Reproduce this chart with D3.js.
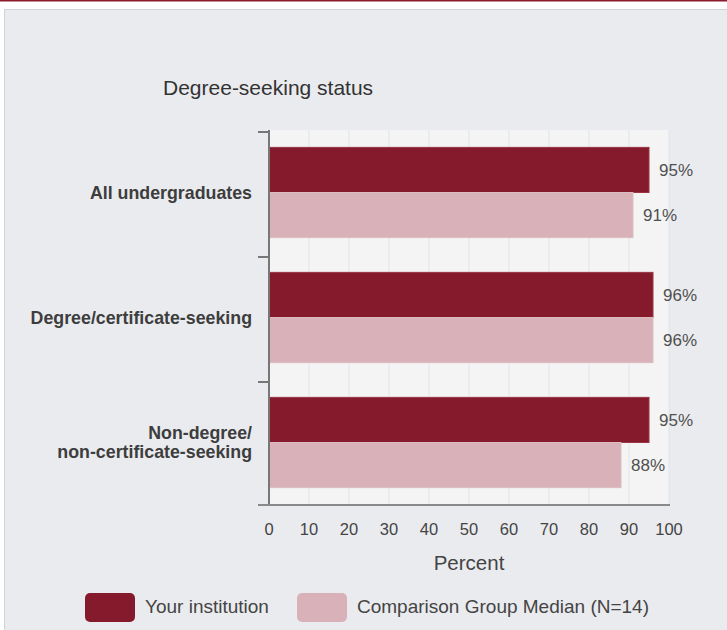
<!DOCTYPE html>
<html>
<head>
<meta charset="utf-8">
<script src="https://cdn.jsdelivr.net/npm/d3@7/dist/d3.min.js"></script>
<style>
  html, body { margin: 0; padding: 0; background: #ffffff; }
  svg { display: block; font-family: "Liberation Sans", Arial, sans-serif; }
</style>
</head>
<body>
<svg id="chart" width="727" height="630"></svg>
<script>
const title = "Degree-seeking status";
const categories = ["All undergraduates", "Degree/certificate-seeking", "Non-degree/\nnon-certificate-seeking"];
const seriesNames = ["Your institution", "Comparison Group Median (N=14)"];
const yourInstitution = [95, 96, 95];
const comparisonMedian = [91, 96, 88];
const xTicks = [0, 10, 20, 30, 40, 50, 60, 70, 80, 90, 100];
const xLabel = "Percent";
const colors = ["#841a2c", "#d8b2b8"];

const svg = d3.select("#chart");

// top rule and panel
svg.append("rect").attr("x", 0).attr("y", 0).attr("width", 727).attr("height", 1.5).attr("fill", "#8a1c2e");
svg.append("rect").attr("x", 4.5).attr("y", 9.5).attr("width", 740).attr("height", 640)
  .attr("fill", "#eaebef").attr("stroke", "#d2d3d6").attr("stroke-width", 1);

const pL = 269, pR = 669, pT = 130, pB = 505;
const x = d3.scaleLinear().domain([0, 100]).range([pL, pR]);
const y = d3.scaleBand().domain(categories).range([pT, pB]).padding(0);
const inner = d3.scaleBand().domain([0, 1]).range([0, y.bandwidth()]).paddingInner(0).paddingOuter(0.385);

// plot background
svg.append("rect").attr("x", pL).attr("y", pT).attr("width", pR - pL).attr("height", pB - pT).attr("fill", "#f4f4f4");

// grid
svg.append("g").selectAll("line").data(xTicks).join("line")
  .attr("x1", d => x(d)).attr("x2", d => x(d))
  .attr("y1", pT).attr("y2", pB)
  .attr("stroke", "#dfe4ec").attr("stroke-width", 1);

// title
svg.append("text").attr("x", 163).attr("y", 95).attr("font-size", 21).attr("fill", "#333").text(title);

// bars
const rows = categories.map((c, i) => ({ cat: c, vals: [yourInstitution[i], comparisonMedian[i]] }));
const groups = svg.append("g").selectAll("g").data(rows).join("g")
  .attr("transform", d => `translate(0,${y(d.cat)})`);
groups.selectAll("rect").data(d => d.vals.map((v, k) => ({ v, k }))).join("rect")
  .attr("x", x(0)).attr("y", d => inner(d.k))
  .attr("width", d => x(d.v) - x(0)).attr("height", inner.bandwidth())
  .attr("fill", d => colors[d.k])
  .attr("stroke", d => d.k === 0 ? "#9a3546" : "#dcbcc1").attr("stroke-width", 1);
groups.selectAll("text").data(d => d.vals.map((v, k) => ({ v, k }))).join("text")
  .attr("x", d => x(d.v) + 10).attr("y", d => inner(d.k) + inner.bandwidth() / 2)
  .attr("dy", "0.36em").attr("font-size", 17).attr("fill", "#505050")
  .text(d => d.v + "%");

// y axis
const yAxis = svg.append("g");
yAxis.append("line").attr("x1", pL).attr("x2", pL).attr("y1", pT).attr("y2", pB)
  .attr("stroke", "#777").attr("stroke-width", 2);
yAxis.selectAll("line.tk").data([pT, pT + y.step(), pT + 2 * y.step()]).join("line").attr("class", "tk")
  .attr("x1", 258).attr("x2", pL).attr("y1", d => d + 2).attr("y2", d => d + 2)
  .attr("stroke", "#777").attr("stroke-width", 2);
const catLabels = yAxis.selectAll("text").data(categories).join("text")
  .attr("x", 252).attr("text-anchor", "end").attr("font-size", 17.8).attr("font-weight", "bold").attr("fill", "#3d3d3d");
catLabels.each(function(d) {
  const lines = d.split("\n");
  const t = d3.select(this);
  const cy = y(d) + y.bandwidth() / 2;
  const lh = 19;
  lines.forEach((ln, i) => {
    t.append("tspan").attr("x", 252).attr("y", cy + (i - (lines.length - 1) / 2) * lh).attr("dy", "0.36em").text(ln);
  });
});

// x axis
svg.append("line").attr("x1", 258).attr("x2", pR + 1).attr("y1", pB).attr("y2", pB)
  .attr("stroke", "#8a8a8a").attr("stroke-width", 2);
svg.append("g").selectAll("text").data(xTicks).join("text")
  .attr("x", d => x(d)).attr("y", 529).attr("dy", "0.36em").attr("text-anchor", "middle")
  .attr("font-size", 16.5).attr("fill", "#444").text(d => d);
svg.append("text").attr("x", 469).attr("y", 570).attr("text-anchor", "middle")
  .attr("font-size", 20.5).attr("fill", "#444").text(xLabel);

// legend
const legendX = [85, 297];
const lg = svg.append("g").selectAll("g").data(seriesNames).join("g")
  .attr("transform", (d, i) => `translate(${legendX[i]},593)`);
lg.append("rect").attr("width", 50).attr("height", 29).attr("rx", 5)
  .attr("fill", (d, i) => colors[i]);
lg.append("text").attr("x", 60).attr("y", 20).attr("font-size", 19).attr("fill", "#444").text(d => d);
</script>
</body>
</html>
